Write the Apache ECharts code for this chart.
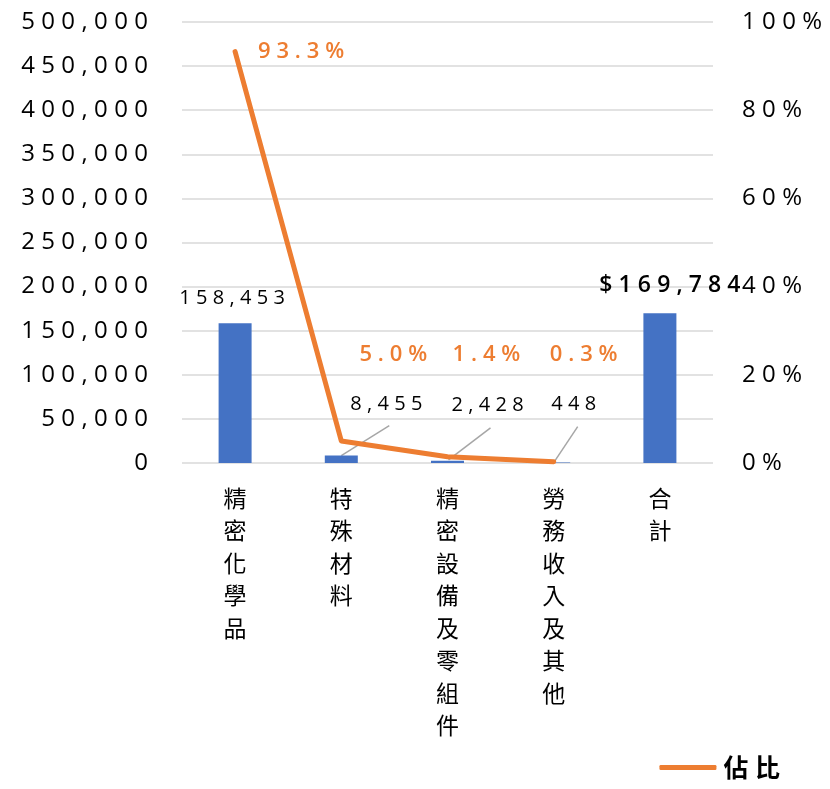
<!DOCTYPE html>
<html>
<head>
<meta charset="utf-8">
<script src="https://cdn.jsdelivr.net/npm/echarts@6/dist/echarts.min.js"></script>
<style>
html,body{margin:0;padding:0;background:#fff;}
#main{width:830px;height:789px;}
</style>
</head>
<body>
<div id="main"></div>
<script>
// ---- data ----
const categories = ['精密化學品', '特殊材料', '精密設備及零組件', '勞務收入及其他', '合計'];
const amounts = [158453, 8455, 2428, 448, 169784];
const shares = [93.3, 5.0, 1.4, 0.3, null];
const leftAxisMax = 500000;
const leftAxisStep = 50000;
const rightAxisMax = 100;
const rightAxisStep = 20;
const lineName = '佔比';
const barName = '金額';
const leaderIndices = [1, 2, 3];

// ---- styles ----
const SP = '\u2009\u200A';
const spaced = s => String(s).split('').join(SP);
const FONT = "'Open Sans', 'Noto Sans CJK TC', sans-serif";
const CJK = "'Noto Sans CJK TC', 'Open Sans', sans-serif";
const barLabelShift = [[-3, -10], [45, -36], [40, -41], [20, -43], [10, -11]];
const lineLabelShift = [[66, 16], [52, -70], [39, -86], [30, -91], [0, 0]];
// leader line pixel offsets from the bar top: [startDx, startDy, endDx, endDy]
const leaderShift = { 1: [0, 0, 48, -30], 2: [1, -1, 43, -33], 3: [0, 0, 24, -36] };

const barData = amounts.map((v, i) => i === amounts.length - 1
  ? { value: v, label: { fontWeight: 600, fontSize: 23 } }
  : v);

const chart = echarts.init(document.getElementById('main'));
chart.setOption({
  animation: false,
  backgroundColor: '#fff',
  grid: { left: 182, right: 117, top: 22, bottom: 326, containLabel: false },
  legend: {
    data: [lineName],
    right: 45, bottom: 4,
    icon: 'roundRect',
    itemWidth: 57, itemHeight: 5,
    itemGap: 0,
    textStyle: { fontFamily: CJK, fontSize: 25, fontWeight: 'bold', color: '#000', padding: [0, 0, 0, 2] },
    formatter: n => spaced(n)
  },
  xAxis: {
    type: 'category',
    data: categories,
    axisLine: { show: false },
    axisTick: { show: false },
    axisLabel: {
      interval: 0,
      margin: 19,
      fontFamily: CJK, fontSize: 23, color: '#000', lineHeight: 32.5,
      verticalAlign: 'top',
      formatter: v => v.split('').join('\n')
    }
  },
  yAxis: [
    {
      type: 'value', min: 0, max: leftAxisMax, interval: leftAxisStep,
      axisLine: { show: false }, axisTick: { show: false },
      splitLine: { lineStyle: { color: '#d9d9d9', width: 1.5 } },
      axisLabel: {
        margin: 34, fontFamily: FONT, fontSize: 24, color: '#000',
        formatter: v => spaced(v.toLocaleString('en-US'))
      }
    },
    {
      type: 'value', min: 0, max: rightAxisMax, interval: rightAxisStep,
      axisLine: { show: false }, axisTick: { show: false },
      splitLine: { show: false },
      axisLabel: {
        margin: 29, fontFamily: FONT, fontSize: 24, color: '#000',
        formatter: v => spaced(v + '%')
      }
    }
  ],
  series: [
    {
      name: barName,
      type: 'bar',
      data: barData,
      barWidth: 33,
      itemStyle: { color: '#4472C4' },
      label: {
        show: true, position: 'top', distance: 5,
        fontFamily: FONT, fontSize: 20, color: '#000',
        formatter: p => p.dataIndex === amounts.length - 1
          ? spaced('$' + p.value.toLocaleString('en-US'))
          : spaced(p.value.toLocaleString('en-US'))
      },
      labelLayout: p => ({ dx: barLabelShift[p.dataIndex][0], dy: barLabelShift[p.dataIndex][1] }),
      labelLine: { show: false },
      z: 2
    },
    {
      name: 'leader',
      type: 'custom',
      xAxisIndex: 0, yAxisIndex: 0,
      data: leaderIndices.map(i => [i, amounts[i]]),
      silent: true,
      z: 1,
      renderItem: (params, api) => {
        const i = api.value(0);
        const p = api.coord([i, api.value(1)]);
        const s = leaderShift[i];
        return {
          type: 'line',
          shape: { x1: p[0] + s[0], y1: p[1] + s[1], x2: p[0] + s[2], y2: p[1] + s[3] },
          style: { stroke: '#a6a6a6', lineWidth: 1.5 }
        };
      }
    },
    {
      name: lineName,
      type: 'line',
      yAxisIndex: 1,
      data: shares,
      symbol: 'circle',
      symbolSize: 0.1,
      showSymbol: true,
      lineStyle: { color: '#ED7D31', width: 5, cap: 'round', join: 'round' },
      itemStyle: { color: '#ED7D31' },
      label: {
        show: true, position: 'top', distance: 5,
        fontFamily: FONT, fontSize: 22, fontWeight: 600, color: '#ED7D31',
        formatter: p => p.value == null ? '' : spaced(Number(p.value).toFixed(1) + '%')
      },
      labelLayout: p => ({ dx: lineLabelShift[p.dataIndex][0], dy: lineLabelShift[p.dataIndex][1] }),
      labelLine: { show: false },
      z: 3
    }
  ]
});
</script>
</body>
</html>
